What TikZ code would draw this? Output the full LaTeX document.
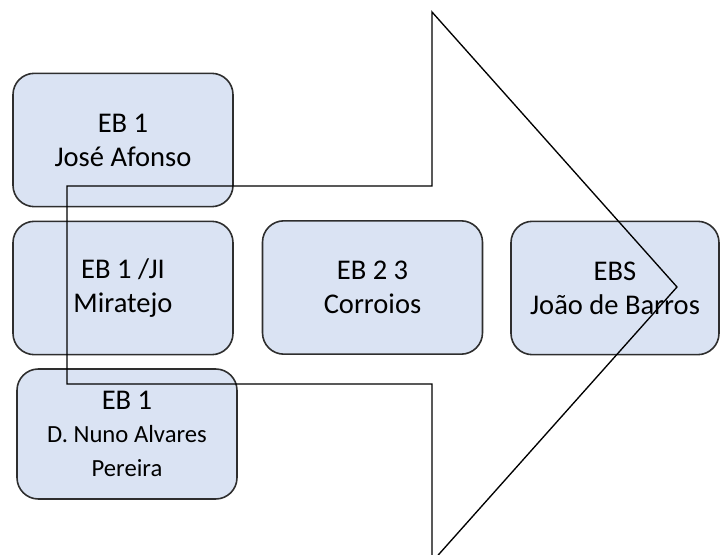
\documentclass[tikz,border=0pt]{standalone}
\usepackage{fontspec}
\setmainfont{Carlito}
\usetikzlibrary{positioning}
\definecolor{boxfill}{HTML}{DAE3F3}
\definecolor{boxline}{HTML}{2E2E2E}
\newcommand{\smalltext}{\fontsize{18.5}{23}\selectfont}
\tikzset{
	% ------- every something
	every node/.style={
		font=\fontsize{21.4}{25.5}\selectfont,
	},
	% ------- custom
	school/.style={
		draw=boxline,
		fill=boxfill,
		line width=1.2pt,
		rounded corners=16pt,
		minimum width=165pt,
		minimum height=100pt,
		inner sep=0pt,
		align=center,
	},
	big arrow/.style={
		draw=black,
		line width=1pt,
		line join=miter,
	},
}

\begin{document}
\begin{tikzpicture}[x=0.75pt,y=-0.75pt]

% frame %{{{1

	\useasboundingbox (0,0) rectangle (720,555);
	\clip (0,0) rectangle (720,555);

% schools %{{{1

	\node[school] (jose) at (123,140) {EB 1\\José Afonso};
	\node[school] (miratejo) at (123,288) {EB 1 /JI\\Miratejo};
	\node[school] (corroios) at (372.5,287.5) {EB 2 3\\Corroios};
	\node[school, minimum width=156pt] (barros) at (615,288) {EBS\\João de Barros};
	\node[school, minimum height=97.5pt] (nuno) at (127,434)
		{EB 1\\[-1pt]\smalltext D. Nuno Alvares\\\smalltext Pereira};

% arrow coordinates %{{{1

	\coordinate (tail top) at (67,186);
	\coordinate (neck top) at (432,186);
	\coordinate (head top) at (432,12);
	\coordinate (tip) at (677,287);
	\coordinate (head bottom) at (432,562);
	\coordinate (neck bottom) at (432,384);
	\coordinate (tail bottom) at (67,384);

% arrow outline %{{{1

	\draw[big arrow] (tail top) -- (neck top) -- (head top) -- (tip)
		-- (head bottom) -- (neck bottom) -- (tail bottom) -- cycle;

% closing %{{{1

\end{tikzpicture}
\end{document}
